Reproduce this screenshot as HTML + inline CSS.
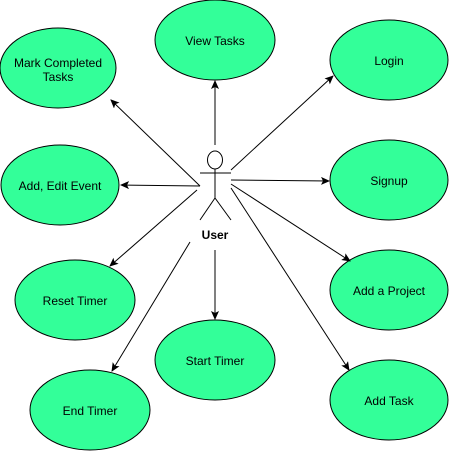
<!DOCTYPE html>
<html><head><meta charset="utf-8"><style>
html,body{margin:0;padding:0;background:#fff;width:451px;height:451px;overflow:hidden}
text{font-family:"Liberation Sans",Arial,sans-serif;font-size:12px;fill:#000}
</style></head><body>
<svg width="451" height="451" viewBox="0 0 451 451">
<defs><marker id="ah" markerWidth="10" markerHeight="10" refX="8" refY="4" orient="auto" markerUnits="userSpaceOnUse"><path d="M0,0 L9,4 L0,8 L2,4 z" fill="#000"/></marker></defs>
<g fill="#33ff99" stroke="#000" stroke-width="1">
<ellipse cx="58" cy="68" rx="58" ry="40"/>
<ellipse cx="215" cy="40" rx="60" ry="40"/>
<ellipse cx="389" cy="60" rx="59" ry="40"/>
<ellipse cx="60" cy="185" rx="59" ry="40"/>
<ellipse cx="389" cy="180" rx="59" ry="40"/>
<ellipse cx="75" cy="300" rx="60" ry="40"/>
<ellipse cx="389" cy="290" rx="59" ry="40"/>
<ellipse cx="215" cy="360" rx="60" ry="40"/>
<ellipse cx="90" cy="410" rx="60" ry="40"/>
<ellipse cx="389" cy="400" rx="59" ry="40"/>
</g>
<g text-anchor="middle">
<text x="58" y="67">Mark Completed</text>
<text x="58" y="81">Tasks</text>
<text x="215" y="45">View Tasks</text>
<text x="389" y="65">Login</text>
<text x="60" y="190">Add, Edit Event</text>
<text x="389" y="185">Signup</text>
<text x="75" y="305">Reset Timer</text>
<text x="389" y="295">Add a Project</text>
<text x="215" y="365">Start Timer</text>
<text x="90" y="415">End Timer</text>
<text x="389" y="405">Add Task</text>
<text x="215" y="239" font-weight="bold">User</text>
</g>
<g stroke="#000" stroke-width="1" fill="#fff">
<ellipse cx="215" cy="160" rx="7.5" ry="9"/>
<line x1="215" y1="169" x2="215" y2="198"/>
<line x1="200" y1="173" x2="231" y2="173"/>
<line x1="215" y1="198" x2="200" y2="220"/>
<line x1="215" y1="198" x2="231" y2="220"/>
</g>
<g stroke="#000" stroke-width="1" marker-end="url(#ah)">
<line x1="215" y1="145" x2="215" y2="81"/>
<line x1="200" y1="186" x2="111" y2="100"/>
<line x1="231" y1="170" x2="333" y2="76"/>
<line x1="200" y1="186" x2="121" y2="185"/>
<line x1="231" y1="180" x2="329" y2="181"/>
<line x1="197" y1="190" x2="110" y2="266"/>
<line x1="231" y1="184" x2="350" y2="261"/>
<line x1="215" y1="250" x2="215" y2="319"/>
<line x1="190" y1="242" x2="112" y2="371"/>
<line x1="231" y1="188" x2="349" y2="370"/>
</g>
</svg>
</body></html>
